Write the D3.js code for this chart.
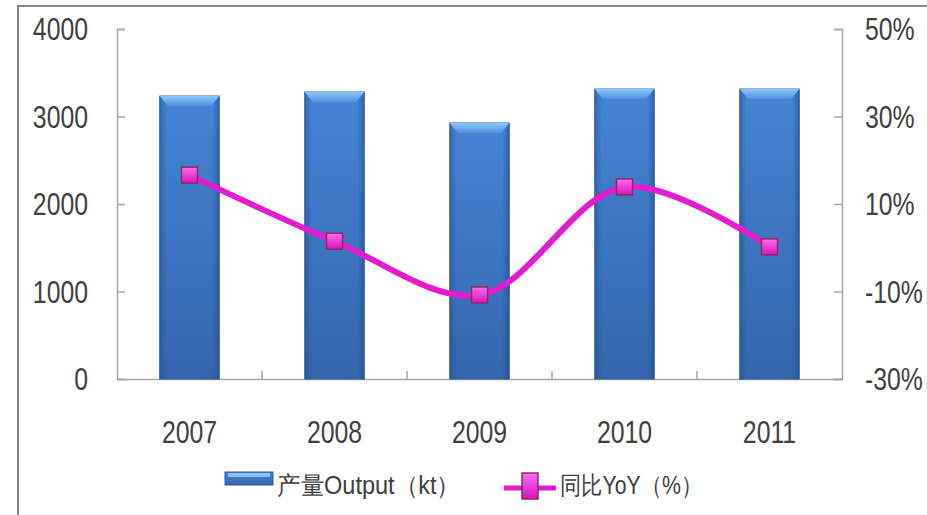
<!DOCTYPE html>
<html>
<head>
<meta charset="utf-8">
<script src="https://cdn.jsdelivr.net/npm/d3@7"></script>
<style>
  body { margin: 0; background: #fff; }
  text { font-family: "Liberation Sans", sans-serif; fill: #404040; }
</style>
</head>
<body>
<div id="chart"></div>
<script>
// Chart data
const years = ["2007", "2008", "2009", "2010", "2011"];
const output = [3234, 3280, 2926, 3314, 3314];   // kt
const yoy = [16.6, 1.5, -10.8, 13.9, 0.2];        // %
const leftTicks = [0, 1000, 2000, 3000, 4000];
const rightTicks = [-30, -10, 10, 30, 50];
const legendLabels = ["产量Output（kt）", "同比YoY（%）"];

const width = 927;
const height = 515;
const margin = { top: 29, right: 85, bottom: 136, left: 117 };
const squeeze = 0.8; // labels in the picture are horizontally condensed

const svg = d3.select("#chart")
  .append("svg")
  .attr("width", width)
  .attr("height", height);

const defs = svg.append("defs");

// bar gradients
const barV = defs.append("linearGradient").attr("id", "barV")
  .attr("x1", 0).attr("y1", 0).attr("x2", 0).attr("y2", 1);
barV.append("stop").attr("offset", "0%").attr("stop-color", "#4585d6");
barV.append("stop").attr("offset", "100%").attr("stop-color", "#3566ad");

const barH = defs.append("linearGradient").attr("id", "barH")
  .attr("x1", 0).attr("y1", 0).attr("x2", 1).attr("y2", 0);
barH.append("stop").attr("offset", "0%").attr("stop-color", "#1d4a8a").attr("stop-opacity", 0.45);
barH.append("stop").attr("offset", "12%").attr("stop-color", "#1d4a8a").attr("stop-opacity", 0);
barH.append("stop").attr("offset", "88%").attr("stop-color", "#1d4a8a").attr("stop-opacity", 0);
barH.append("stop").attr("offset", "100%").attr("stop-color", "#1d4a8a").attr("stop-opacity", 0.55);

const bevel = defs.append("linearGradient").attr("id", "bevel")
  .attr("x1", 0).attr("y1", 0).attr("x2", 0).attr("y2", 1);
bevel.append("stop").attr("offset", "0%").attr("stop-color", "#8cc8fa");
bevel.append("stop").attr("offset", "100%").attr("stop-color", "#4f8fdc");

const mark = defs.append("linearGradient").attr("id", "mark")
  .attr("x1", 0).attr("y1", 0).attr("x2", 0).attr("y2", 1);
mark.append("stop").attr("offset", "0%").attr("stop-color", "#ff6cf0");
mark.append("stop").attr("offset", "100%").attr("stop-color", "#d414bf");

// outer frame
svg.append("rect")
  .attr("x", 18).attr("y", 6)
  .attr("width", 940).attr("height", 540)
  .attr("fill", "none")
  .attr("stroke", "#8a8a8a")
  .attr("stroke-width", 2);

// Scales
const x = d3.scaleBand()
  .domain(years)
  .range([margin.left, width - margin.right])
  .paddingInner(0.59)
  .paddingOuter(0.295);

const xBand = d3.scaleBand()
  .domain(years)
  .range([margin.left, width - margin.right]);

const yLeft = d3.scaleLinear()
  .domain([0, 4000])
  .range([height - margin.bottom, margin.top]);

const yRight = d3.scaleLinear()
  .domain([-30, 50])
  .range([height - margin.bottom, margin.top]);

// Axes
const axisColor = "#a6a6a6";

const gLeft = svg.append("g")
  .attr("transform", `translate(${margin.left},0)`)
  .call(d3.axisRight(yLeft).tickValues(leftTicks).tickSize(8).tickFormat(""));
const gRight = svg.append("g")
  .attr("transform", `translate(${width - margin.right},0)`)
  .call(d3.axisLeft(yRight).tickValues(rightTicks).tickSize(8).tickFormat(""));
[gLeft, gRight].forEach(g => {
  g.select(".domain").attr("stroke", axisColor).attr("stroke-width", 1.5);
  g.selectAll(".tick line").attr("stroke", axisColor).attr("stroke-width", 1.5);
});

// helper for condensed labels
function label(g, px, py, anchor, str) {
  g.append("text")
    .attr("transform", `translate(${px},${py}) scale(${squeeze},1)`)
    .attr("text-anchor", anchor)
    .attr("font-size", 31)
    .text(str);
}

// left tick labels
const gl = svg.append("g");
leftTicks.forEach(d => label(gl, 88, yLeft(d) + 11, "end", d));

// right tick labels
const gr = svg.append("g");
rightTicks.forEach(d => label(gr, 865, yRight(d) + 11, "start", d + "%"));

// bottom axis
const gBottom = svg.append("g")
  .attr("transform", `translate(0,${height - margin.bottom})`)
  .call(d3.axisTop(xBand).tickSize(0).tickFormat(""));
gBottom.select(".domain").attr("stroke", axisColor).attr("stroke-width", 1.5);
gBottom.selectAll(".tick").remove();
gBottom.selectAll(".cat")
  .data(years.slice(1))
  .join("line")
  .attr("class", "cat")
  .attr("x1", d => xBand(d)).attr("x2", d => xBand(d))
  .attr("y1", 0).attr("y2", -8)
  .attr("stroke", axisColor).attr("stroke-width", 1.5);

const gx = svg.append("g");
years.forEach(d => label(gx, xBand(d) + xBand.bandwidth() / 2, 443, "middle", d));

// Bars
const bars = svg.append("g").selectAll("g")
  .data(years.map((y, i) => ({ year: y, value: output[i] })))
  .join("g");

bars.append("rect")
  .attr("x", d => x(d.year))
  .attr("y", d => yLeft(d.value))
  .attr("width", x.bandwidth())
  .attr("height", d => yLeft(0) - yLeft(d.value))
  .attr("fill", "url(#barV)")
  .attr("stroke", "#2f5c9c")
  .attr("stroke-width", 1);
bars.append("rect")
  .attr("x", d => x(d.year))
  .attr("y", d => yLeft(d.value))
  .attr("width", x.bandwidth())
  .attr("height", d => yLeft(0) - yLeft(d.value))
  .attr("fill", "url(#barH)");
bars.append("path")
  .attr("d", d => {
    const x0 = x(d.year), x1 = x0 + x.bandwidth(), y0 = yLeft(d.value);
    return `M${x0},${y0}L${x1},${y0}L${x1 - 8},${y0 + 10}L${x0 + 8},${y0 + 10}Z`;
  })
  .attr("fill", "url(#bevel)");

// YoY line
const cx = d => xBand(d) + xBand.bandwidth() / 2;
const lineData = years.map((y, i) => ({ year: y, value: yoy[i] }));

const line = d3.line()
  .x(d => cx(d.year))
  .y(d => yRight(d.value))
  .curve(d3.curveCatmullRom.alpha(0.5));

svg.append("path")
  .datum(lineData)
  .attr("fill", "none")
  .attr("stroke", "#e41ccf")
  .attr("stroke-width", 6)
  .attr("d", line);

svg.append("g").selectAll("rect")
  .data(lineData)
  .join("rect")
  .attr("x", d => cx(d.year) - 8)
  .attr("y", d => yRight(d.value) - 8)
  .attr("width", 16)
  .attr("height", 16)
  .attr("fill", "url(#mark)")
  .attr("stroke", "#8e2a5c")
  .attr("stroke-width", 1.5);

// Legend
const legend = svg.append("g");
legend.append("rect")
  .attr("x", 225).attr("y", 472)
  .attr("width", 48).attr("height", 13)
  .attr("fill", "url(#barV)")
  .attr("stroke", "#2f5c9c");
legend.append("rect")
  .attr("x", 228).attr("y", 473)
  .attr("width", 42).attr("height", 4)
  .attr("fill", "#86c2f8");
legend.append("text")
  .attr("x", 277).attr("y", 494)
  .attr("font-size", 25)
  .attr("font-family", "'Noto Sans CJK SC', sans-serif")
  .attr("textLength", 183)
  .attr("lengthAdjust", "spacingAndGlyphs")
  .text(legendLabels[0]);

legend.append("line")
  .attr("x1", 504).attr("x2", 556)
  .attr("y1", 488).attr("y2", 488)
  .attr("stroke", "#e41ccf")
  .attr("stroke-width", 5);
legend.append("rect")
  .attr("x", 522).attr("y", 473)
  .attr("width", 16).attr("height", 26)
  .attr("fill", "url(#mark)")
  .attr("stroke", "#8e2a5c")
  .attr("stroke-width", 1.5);
legend.append("text")
  .attr("x", 560).attr("y", 494)
  .attr("font-size", 25)
  .attr("font-family", "'Noto Sans CJK SC', sans-serif")
  .attr("textLength", 142)
  .attr("lengthAdjust", "spacingAndGlyphs")
  .text(legendLabels[1]);
</script>
</body>
</html>
